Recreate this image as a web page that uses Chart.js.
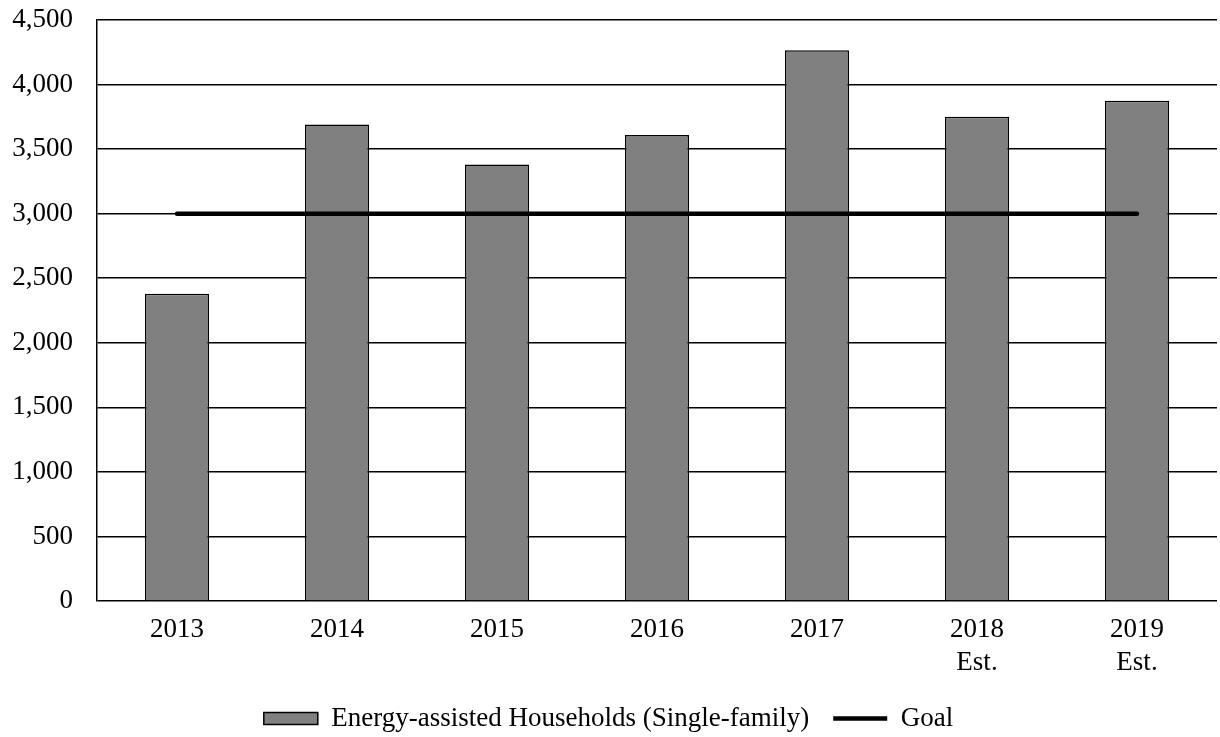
<!DOCTYPE html>
<html>
<head>
<meta charset="utf-8">
<script src="https://cdn.jsdelivr.net/npm/chart.js@4"></script>
<style>
  html, body { margin: 0; padding: 0; background: #fff; }
  #wrap { width: 1220px; height: 737px; }
</style>
</head>
<body>
<div id="wrap"><canvas id="grafico"></canvas></div>
<script>
// dados do gráfico
const anos = [['2013'], ['2014'], ['2015'], ['2016'], ['2017'], ['2018', 'Est.'], ['2019', 'Est.']];
const domicilios = [2380, 3690, 3380, 3610, 4265, 3750, 3875];
const meta = [3000, 3000, 3000, 3000, 3000, 3000, 3000];

const fonte = { family: "'Liberation Serif', 'Times New Roman', serif", size: 27 };

new Chart(document.getElementById('grafico'), {
  data: {
    labels: anos,
    datasets: [
      {
        type: 'line',
        label: 'Goal',
        data: meta,
        borderColor: '#000',
        backgroundColor: '#000',
        borderWidth: 4.5,
        pointRadius: 0,
        pointStyle: 'line',
        borderCapStyle: 'round',
        order: 0
      },
      {
        type: 'bar',
        label: 'Energy-assisted Households (Single-family)',
        data: domicilios,
        backgroundColor: '#808080',
        borderColor: '#000',
        borderWidth: 1.5,
        pointStyle: 'rect',
        categoryPercentage: 0.4,
        barPercentage: 1,
        order: 1
      }
    ]
  },
  options: {
    responsive: true,
    maintainAspectRatio: false,
    animation: false,
    layout: { padding: { top: 20, right: 3, bottom: -5, left: 0 } },
    plugins: {
      legend: {
        position: 'bottom',
        reverse: true,
        labels: {
          font: fonte,
          color: '#000',
          usePointStyle: true,
          pointStyleWidth: 54,
          boxHeight: 12,
          padding: 24
        }
      },
      tooltip: { enabled: false }
    },
    scales: {
      x: {
        grid: { display: false, drawTicks: false },
        border: { display: false },
        ticks: { font: fonte, color: '#000', maxRotation: 0, padding: 13 },
        afterFit: s => { s.height = 80; }
      },
      y: {
        min: 0,
        max: 4500,
        ticks: {
          stepSize: 500,
          font: fonte,
          color: '#000',
          padding: 24,
          callback: v => v.toLocaleString('en-US')
        },
        grid: { color: '#000', lineWidth: 1.5, drawTicks: false },
        border: { color: '#000', width: 1.5 },
        // sem folga extra acima/abaixo para o eixo começar em y=20
        afterFit: s => { s.width = 97; s.paddingTop = 0; s.paddingBottom = 0; }
      }
    }
  }
});
</script>
</body>
</html>
